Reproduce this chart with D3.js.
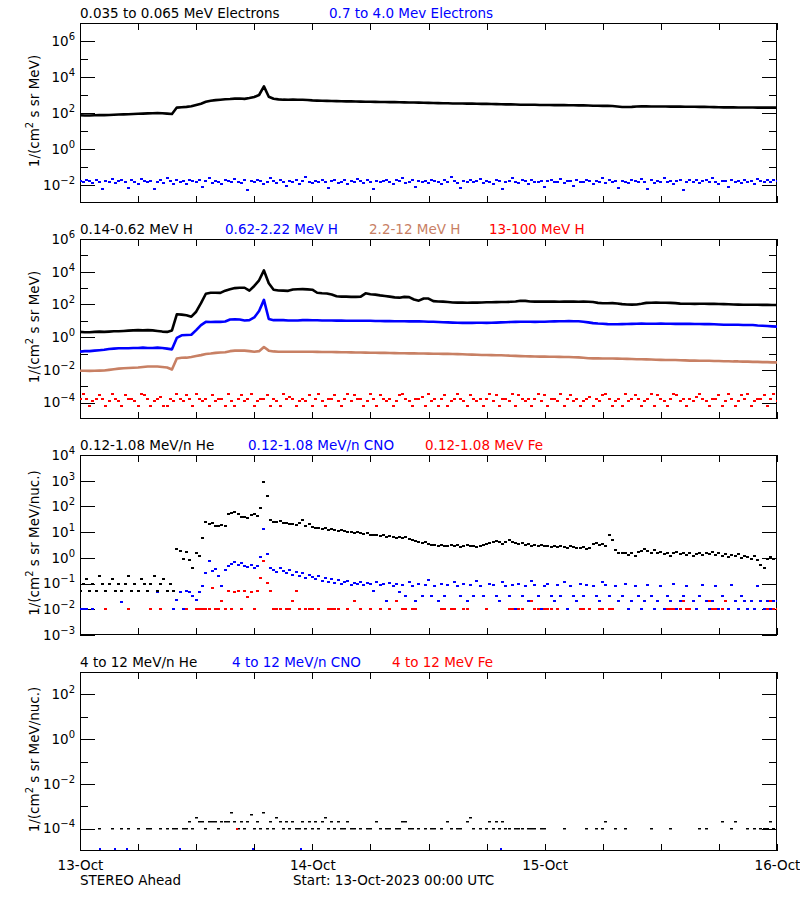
<!DOCTYPE html>
<html><head><meta charset="utf-8">
<script src="https://cdn.jsdelivr.net/npm/d3@7"></script>
<style>
body{margin:0;background:#fff}
svg{display:block}
text{font-family:"DejaVu Sans",sans-serif}
</style>
</head><body>
<svg id="chart" width="800" height="900"></svg>
<script>
// ---------------- DATA ----------------
// time axis: hours since 13-Oct-2023 00:00 UTC
const tickHours = [0,6,12,18,24,30,36,42,48,54,60,66,72];
const dayLabels = {0:"13-Oct",24:"14-Oct",48:"15-Oct",72:"16-Oct"};

// series on a 30-min grid (145 values, 0..72 h)
const eLow = [ // 0.035-0.065 MeV electrons
 75,72,73,75,77,76,78,80,82,84,
 86,88,90,92,95,97,98,96,92,88,
 200,210,220,235,280,330,420,480,520,550,
 580,600,630,640,610,680,780,1000,3000,800,
 620,570,550,545,550,540,540,530,500,490,
 480,470,460,455,450,445,440,435,430,425,
 420,415,410,405,400,400,395,390,385,380,
 375,370,365,360,355,350,345,340,340,335,
 330,330,325,320,320,315,310,305,300,300,
 295,290,290,285,285,280,280,280,275,275,
 275,270,270,265,265,260,255,255,250,250,
 245,230,215,215,220,230,235,232,230,230,
 228,228,226,225,225,224,222,222,220,218,
 215,212,208,206,205,205,204,203,202,202,
 200,200,198,198,200];
const hLow = [ // 0.14-0.62 MeV H
 2.1,2.0,2.0,2.1,2.2,2.1,2.2,2.3,2.3,2.4,
 2.5,2.6,2.7,2.6,2.7,2.6,2.4,2.2,2.1,2.6,
 25,24,22,18,36,120,450,520,520,510,
 700,850,1000,1050,1050,700,1350,3000,12000,2000,
 800,720,700,680,820,850,860,840,800,520,
 480,470,400,320,300,300,290,290,300,480,
 420,400,360,330,300,270,260,290,280,200,
 170,230,230,160,150,148,140,132,130,130,
 128,130,130,132,135,135,138,140,140,145,
 150,170,165,150,148,148,150,148,148,145,
 148,150,148,145,148,145,140,125,118,118,
 120,115,105,100,98,100,110,125,128,130,
 128,128,125,120,112,110,110,108,110,110,
 108,108,106,105,104,100,98,96,95,96,
 95,94,94,93,92];
const hMid = [ // 0.62-2.22 MeV H
 0.13,0.14,0.14,0.15,0.16,0.17,0.19,0.2,0.21,0.21,
 0.21,0.22,0.22,0.23,0.22,0.22,0.23,0.22,0.2,0.18,
 0.9,1.3,1.35,1.4,2.7,5.5,8.7,8.5,8.7,8.6,
 9.0,12,12.5,12,10.5,11,16,40,190,13,
 11,11,11,10.5,10.5,10.5,11,11,10.8,10.8,
 10.5,10.5,10.5,10.3,10.3,10.2,10,10,10,10,
 10,9.8,9.8,9.6,9.6,9.5,9.5,9.4,9.3,9.2,
 9.2,9.0,8.8,8.7,8.5,8.2,8.0,7.8,7.6,7.5,
 7.6,7.5,7.6,7.6,7.5,7.6,7.8,8.0,8.2,8.5,
 8.6,8.7,8.7,8.7,8.6,8.7,8.8,9.0,9.2,9.4,
 9.5,9.6,9.5,9.4,8.8,8.0,7.2,6.8,6.6,6.3,
 6.2,6.2,6.3,6.4,6.5,6.6,6.7,6.6,6.6,6.6,
 6.7,6.6,6.6,6.5,6.6,6.5,6.5,6.4,6.4,6.3,
 6.3,6.2,6.0,5.8,5.8,5.8,5.7,5.6,5.6,5.5,
 5.2,5.0,4.8,4.6,4.4];
const hHigh = [ // 2.2-12 MeV H
 0.0088,0.0088,0.0087,0.0089,0.009,0.0092,0.01,0.011,0.012,0.0125,
 0.013,0.0135,0.014,0.015,0.016,0.016,0.016,0.015,0.014,0.0105,
 0.05,0.055,0.056,0.062,0.07,0.08,0.093,0.1,0.11,0.117,
 0.12,0.14,0.15,0.15,0.15,0.14,0.13,0.14,0.25,0.15,
 0.135,0.13,0.13,0.13,0.13,0.13,0.13,0.128,0.128,0.126,
 0.125,0.125,0.124,0.122,0.12,0.12,0.118,0.116,0.115,0.114,
 0.113,0.112,0.11,0.11,0.108,0.106,0.105,0.104,0.103,0.102,
 0.1,0.1,0.099,0.098,0.097,0.096,0.095,0.094,0.092,0.09,
 0.088,0.086,0.084,0.082,0.081,0.08,0.079,0.078,0.076,0.074,
 0.072,0.07,0.068,0.067,0.066,0.065,0.065,0.064,0.064,0.063,
 0.062,0.061,0.06,0.058,0.055,0.052,0.051,0.051,0.05,0.05,
 0.05,0.049,0.048,0.047,0.046,0.045,0.045,0.044,0.043,0.042,
 0.041,0.04,0.04,0.04,0.039,0.038,0.037,0.037,0.036,0.036,
 0.036,0.035,0.035,0.034,0.034,0.033,0.033,0.032,0.032,0.031,
 0.031,0.03,0.03,0.029,0.029];

// series on a 20-min grid (217 values, 0..72 h); 0 = no point
const eHighUnit = 1e-2;
const eHigh = [ // 0.7-4.0 MeV electrons, in units of 1e-2
 1.7,1.5,2.0,1.6,1.3,1.8,1.4,0.6,1.7,1.5,2.2,1.3,
 1.6,1.9,1.4,0.7,1.8,1.5,1.2,2.1,1.6,1.4,1.7,0.6,
 1.5,1.8,1.3,2.4,1.6,1.2,1.9,1.5,1.7,1.1,2.0,1.6,
 1.4,1.8,0.8,1.6,2.6,1.3,1.7,1.5,1.2,1.9,1.6,1.4,
 2.1,1.5,1.3,1.8,0.5,1.6,1.4,2.0,1.7,1.2,1.5,2.3,
 1.6,1.3,1.8,1.5,0.9,1.7,1.4,1.9,1.2,1.6,2.7,1.5,
 1.3,1.7,1.5,2.0,1.4,0.7,1.6,1.8,1.3,1.5,1.9,1.2,
 1.7,1.4,2.2,1.6,1.3,1.8,1.5,0.6,1.7,1.4,1.6,2.0,
 1.5,1.2,1.8,1.6,2.4,1.3,1.5,1.9,0.8,1.6,1.4,1.7,
 1.3,2.0,1.6,1.5,1.2,1.8,1.4,2.8,1.6,1.3,0.7,1.7,
 1.5,1.8,1.4,1.6,2.1,1.3,1.7,1.5,1.2,1.9,1.6,0.6,
 1.4,1.7,2.3,1.5,1.3,1.8,1.6,1.2,2.0,1.5,1.4,1.7,
 0.8,1.6,1.9,1.4,1.5,2.2,1.3,1.7,1.6,0.9,1.8,1.5,
 1.4,2.0,1.6,1.2,1.7,1.5,2.6,1.3,1.8,1.4,1.6,0.7,
 1.7,1.5,1.3,1.9,1.6,1.4,2.1,1.5,0.6,1.8,1.3,1.6,
 1.5,2.3,1.4,1.7,1.2,1.6,1.9,0.5,1.5,1.8,1.4,2.0,
 1.3,1.6,1.8,1.4,2.5,1.5,1.2,1.7,1.6,0.8,1.9,1.4,
 1.6,1.3,2.0,1.5,1.7,1.2,2.2,1.6,1.4,1.8,1.5,1.9,
 1.6];
const hTopUnit = 1e-4;
const hTop = [ // 13-100 MeV H, in units of 1e-4
 1.7,3.4,1.7,0.65,1.3,1.7,2.8,1.7,0.65,1.3,3.4,1.7,
 1.3,0.65,2.8,1.7,1.7,1.3,0.65,3.4,2.8,1.7,0.65,1.3,
 1.7,2.2,0.65,0.65,1.7,1.3,3.4,1.7,1.3,2.8,1.7,0.65,
 3.4,1.7,1.3,1.7,0.65,2.8,1.3,1.7,1.7,0.65,3.4,1.3,
 0.65,1.7,2.8,1.3,1.7,3.4,0.65,1.3,1.7,1.7,2.8,0.65,
 1.7,1.3,0.65,3.4,1.7,2.2,1.7,0.65,1.3,1.7,1.3,2.8,
 0.65,1.7,3.4,1.3,0.65,1.7,1.7,2.8,1.3,0.65,1.7,3.4,
 1.3,2.8,1.7,1.7,0.65,1.3,3.4,1.7,0.65,2.8,1.7,1.3,
 1.7,0.65,1.3,2.8,3.4,1.7,1.3,0.65,1.7,1.7,2.2,0.65,
 3.4,1.3,1.7,0.65,1.7,2.8,0.65,1.3,1.7,3.4,1.7,1.3,
 0.65,2.8,1.7,1.3,1.7,0.65,1.7,3.4,1.3,2.8,0.65,1.7,
 1.7,1.3,3.4,0.65,2.8,1.7,1.3,1.7,0.65,1.7,3.4,1.3,
 2.8,0.65,1.7,1.7,1.3,3.4,0.65,1.7,2.8,1.3,1.7,0.65,
 1.3,1.7,2.2,0.65,1.7,1.3,2.8,3.4,1.7,0.65,1.3,1.7,
 0.65,3.4,1.3,1.7,2.8,1.7,0.65,1.3,1.7,3.4,0.65,2.8,
 1.7,1.3,0.65,1.7,3.4,2.8,1.3,1.7,0.65,1.7,1.3,2.2,
 3.4,1.7,1.3,0.65,1.7,1.7,2.8,0.65,1.3,3.4,1.7,0.65,
 1.3,2.8,1.7,3.4,0.65,1.3,1.7,1.7,2.8,0.65,1.7,3.4,
 1.3];
const heLow = [ // 0.12-1.08 MeV/n He
 0.05,0.1,0.15,0.05,0.1,0.05,0.2,0.1,0.05,0.1,0.15,0.05,
 0.1,0.05,0.1,0.2,0.05,0.1,0.05,0.15,0.1,0.05,0.1,0.2,
 0.05,0.1,0.15,0.05,0.1,0.05,2.2,1.9,0.9,1.7,0.8,0.4,
 1.6,1.2,6,24,20,22,18,17,19,18,50,55,
 60,52,40,38,35,45,50,42,90,900,250,30,
 25,24,26,22,23,20,21,19,22,30,18,20,
 16,15,14,13,14,12,13,12,11,12,11,10,
 10,9,10,9,8.5,9,8,7.5,8,7,7.5,6.5,
 7,6.5,6,6.5,6,6.3,5.5,5,4.5,4.2,3.8,4,
 3.5,3.2,3.3,3,3.2,2.8,3,3.3,2.9,3.1,2.7,3,
 3.2,2.8,3,2.6,2.9,3.1,3.4,3.8,4.2,4.5,4,3.6,
 4.3,4.8,4.2,3.8,3.5,3.7,3.3,3.5,3,3.2,2.9,3.1,
 2.8,2.9,2.7,2.8,2.6,2.9,2.7,2.5,2.8,2.6,2.4,2.5,
 2.7,2.3,2.5,3.5,3.8,3.2,3.5,3,8,5,2,1.6,
 1.5,1.6,1.3,1.5,1.2,1.7,1.9,2.2,1.8,1.6,2,1.5,
 1.7,1.4,1.6,1.2,1.5,1.7,1.4,1.6,1.3,1.5,1.2,1.4,
 1.6,1.3,1.5,1.4,1.7,1.3,1.5,1.2,1.4,1.1,1.3,1.2,
 1.4,1,1.2,1.1,0.9,1.2,0.8,0.55,0.4,0.9,1.1,0.9,
 1];
const cnoLow = [ // 0.12-1.08 MeV/n CNO
 0.01,0.01,0.01,0,0.01,0,0,0,0,0,0,0,
 0,0.02,0,0,0,0,0,0,0,0,0,0,
 0.045,0.01,0,0,0,0.01,0.023,0.047,0.01,0.053,0.047,0.034,
 0.023,0.045,0.08,0.25,0.78,0.3,0.37,0.2,0.083,0.35,0.5,0.6,
 0.7,0.55,0.65,0.5,0.45,0.55,0.4,0.5,1.1,13,1.45,0.4,
 0.35,0.28,0.4,0.3,0.25,0.33,0.22,0.28,0.2,0.25,0.17,0.22,
 0.18,0.15,0.2,0.13,0.17,0.12,0.15,0.11,0.14,0.1,0.12,0.13,
 0.09,0.11,0.1,0.12,0.09,0.11,0.1,0.05,0.12,0.09,0.1,0.021,
 0.11,0.08,0.1,0.045,0.09,0.034,0.12,0.08,0.021,0.1,0.034,0.09,
 0.14,0.034,0.08,0.021,0.1,0.034,0.09,0.01,0.12,0.08,0.034,0.1,
 0.021,0.09,0.034,0.13,0.08,0.034,0.01,0.1,0.09,0.034,0.021,0.12,
 0.08,0.034,0.09,0.01,0.1,0.034,0.08,0.021,0.13,0.09,0.034,0.01,
 0.08,0.1,0.034,0.021,0.09,0.034,0.12,0.01,0.08,0.034,0.021,0.1,
 0.034,0.09,0.01,0.08,0.034,0.021,0.12,0.09,0.034,0.01,0.08,0.021,
 0.034,0.1,0.01,0.021,0.08,0.034,0.01,0.021,0.09,0.034,0.01,0.021,
 0.08,0.01,0.034,0.021,0.1,0.01,0.021,0.034,0.08,0.01,0.021,0.01,
 0.034,0.09,0.021,0.01,0.021,0.08,0.01,0.034,0.021,0.01,0.09,0.021,
 0.01,0.034,0.021,0.01,0.021,0.01,0.08,0.021,0.01,0.021,0.01,0.021,
 0.021];
const feLow = [ // 0.12-1.08 MeV Fe
 0,0,0,0,0,0,0,0,0.01,0,0,0,
 0,0,0,0.01,0,0,0,0,0,0,0.01,0,
 0,0.01,0,0,0,0,0,0,0,0.01,0,0,
 0.01,0.01,0.01,0.01,0.01,0.066,0.01,0.01,0.021,0.01,0.05,0.01,
 0.045,0.05,0.01,0.05,0.03,0.045,0.01,0.05,0.17,0.78,0.11,0.05,
 0.01,0.01,0.01,0,0.01,0.01,0.021,0.05,0.01,0,0.01,0.01,
 0.01,0,0.01,0,0,0.01,0.01,0.01,0.01,0,0,0.01,
 0,0.021,0,0.01,0,0,0.01,0,0,0.01,0,0,
 0.01,0,0.021,0,0.01,0.01,0,0.01,0.01,0,0,0,
 0,0,0,0,0.01,0.01,0,0.01,0.01,0,0,0.01,
 0.01,0,0,0,0,0,0.01,0,0,0,0,0,
 0,0.01,0.01,0,0.01,0.01,0,0,0.021,0.01,0.01,0,
 0.01,0.01,0.01,0,0.01,0,0,0,0,0,0,0.01,
 0.01,0,0.01,0,0,0.01,0.01,0,0.01,0.01,0,0,
 0,0,0,0,0,0,0,0,0,0,0,0,
 0,0,0.01,0.01,0.01,0,0.01,0.021,0.01,0.01,0,0,
 0,0,0,0.021,0.01,0.01,0,0.01,0.021,0,0,0,
 0,0,0,0,0,0,0,0,0,0.01,0.021,0.01,
 0.01];
const heHigh = [ // 4-12 MeV/n He
 0,0,0,0,0,0,1e-4,0,0,0,1e-4,0,
 0,1e-4,0,1e-4,0,0,1e-4,0,0,1e-4,1e-4,0,
 0,1e-4,0,1e-4,0,1e-4,1e-4,0,1e-4,1e-4,2e-4,1e-4,
 3e-4,2e-4,2e-4,1e-4,2e-4,2e-4,2e-4,1e-4,2e-4,2e-4,2e-4,5e-4,
 2e-4,1e-4,2e-4,1e-4,2e-4,4e-4,1e-4,2e-4,1e-4,5e-4,1e-4,2e-4,
 1e-4,3e-4,2e-4,1e-4,2e-4,1e-4,2e-4,1e-4,1e-4,2e-4,1e-4,2e-4,
 1e-4,2e-4,1e-4,2e-4,3e-4,1e-4,2e-4,1e-4,2e-4,1e-4,1e-4,2e-4,
 1e-4,1e-4,0,1e-4,0,1e-4,1e-4,0,2e-4,1e-4,0,1e-4,
 1e-4,0,1e-4,1e-4,2e-4,2e-4,1e-4,1e-4,0,1e-4,0,1e-4,
 0,1e-4,1e-4,0,1e-4,0,2e-4,1e-4,0,1e-4,1e-4,0,
 2e-4,3e-4,1e-4,0,1e-4,0,1e-4,2e-4,1e-4,2e-4,1e-4,2e-4,
 1e-4,1e-4,0,1e-4,1e-4,1e-4,0,1e-4,1e-4,1e-4,0,1e-4,
 1e-4,0,0,0,0,0,1e-4,0,0,0,0,0,
 0,1e-4,0,0,1e-4,0,1e-4,2e-4,0,0,1e-4,0,
 0,1e-4,0,0,0,0,0,0,0,1e-4,0,0,
 0,0,0,1e-4,0,0,0,0,0,0,0,0,
 1e-4,0,1e-4,0,0,0,0,2e-4,0,0,1e-4,2e-4,
 0,0,0,1e-4,0,1e-4,0,1e-4,1e-4,1e-4,2e-4,1e-4,
 1e-4];
const cnoHighTimes = [2.1,3.6,4.9,10.3,17.9,22.8,43.5];
const cnoHighValues = [1.2e-5,1.2e-5,1.2e-5,1.2e-5,1.2e-5,1.2e-5,1.2e-5];
const feHighTimes = [16.2];
const feHighValues = [1e-4];

const panelTitles = [
  [["0.035 to 0.065 MeV Electrons","#000000"],["0.7 to 4.0 Mev Electrons","#0000ff"]],
  [["0.14-0.62 MeV H","#000000"],["0.62-2.22 MeV H","#0000ff"],["2.2-12 MeV H","#c88064"],["13-100 MeV H","#ff0000"]],
  [["0.12-1.08 MeV/n He","#000000"],["0.12-1.08 MeV/n CNO","#0000ff"],["0.12-1.08 MeV Fe","#ff0000"]],
  [["4 to 12 MeV/n He","#000000"],["4 to 12 MeV/n CNO","#0000ff"],["4 to 12 MeV Fe","#ff0000"]]
];
const yUnits = ["MeV","MeV","MeV/nuc.","MeV/nuc."];
const footLeft = "STEREO Ahead";
const footMid = "Start: 13-Oct-2023 00:00 UTC";

// ---------------- LAYOUT ----------------
const svg = d3.select("#chart");
svg.append("rect").attr("width",800).attr("height",900).attr("fill","#fff");
const xL = 80, xR = 777;
const x = d3.scaleLinear().domain([0,72]).range([xL,xR]);

const layout = [
  {top:23,  bottom:203, dom:[1e-3,1e7], majors:[1e-2,1,1e2,1e4,1e6], minors:[1e-1,1e1,1e3,1e5], titleX:[80,329]},
  {top:239, bottom:419, dom:[1e-5,1e6], majors:[1e-4,1e-2,1,1e2,1e4,1e6], minors:[1e-3,1e-1,1e1,1e3,1e5], titleX:[80,225,369,489]},
  {top:455, bottom:635, dom:[1e-3,1e4], majors:[1e-3,1e-2,1e-1,1,1e1,1e2,1e3,1e4], minors:[], titleX:[80,248,425]},
  {top:672, bottom:851, dom:[1e-5,1e3], majors:[1e-4,1e-2,1,1e2], minors:[1e-3,1e-1,1e1], titleX:[80,232,392]}
];

function styleAxis(g){
  g.attr("font-family",'"DejaVu Sans", sans-serif').attr("font-size",13.5);
  g.select(".domain").remove();
  g.selectAll(".tick line").attr("stroke","#000").attr("shape-rendering","crispEdges");
  g.selectAll(".tick text").attr("fill","#000");
}

layout.forEach((p,pi)=>{
  p.y = d3.scaleLog().domain(p.dom).range([p.bottom,p.top]);
  const g = svg.append("g");
  const cid = "clip"+pi;
  svg.append("clipPath").attr("id",cid).append("rect")
    .attr("x",xL).attr("y",p.top).attr("width",xR-xL).attr("height",p.bottom-p.top);
  p.plot = svg.append("g").attr("clip-path",`url(#${cid})`);

  // frame
  g.append("rect").attr("x",xL+0.5).attr("y",p.top+0.5).attr("width",xR-xL-1).attr("height",p.bottom-p.top-1)
    .attr("fill","none").attr("stroke","#000").attr("stroke-width",1);

  // left major ticks with labels
  const la = g.append("g").attr("transform",`translate(${xL},0)`)
    .call(d3.axisLeft(p.y).tickValues(p.majors).tickSize(-15).tickSizeOuter(0).tickPadding(5).tickFormat(d=>d));
  styleAxis(la);
  la.selectAll(".tick text").each(function(d){
    const e = Math.round(Math.log10(d));
    const t = d3.select(this); t.text(null);
    t.append("tspan").text("10");
    t.append("tspan").attr("font-size",10).attr("dy",-6).text(e<0 ? "\u2212"+(-e) : String(e));
  });
  if(p.minors.length){
    const lm = g.append("g").attr("transform",`translate(${xL},0)`)
      .call(d3.axisLeft(p.y).tickValues(p.minors).tickSize(-8).tickSizeOuter(0).tickFormat(()=>""));
    styleAxis(lm);
    const rm = g.append("g").attr("transform",`translate(${xR},0)`)
      .call(d3.axisRight(p.y).tickValues(p.minors).tickSize(-8).tickSizeOuter(0).tickFormat(()=>""));
    styleAxis(rm);
  }
  const ra = g.append("g").attr("transform",`translate(${xR},0)`)
    .call(d3.axisRight(p.y).tickValues(p.majors).tickSize(-15).tickSizeOuter(0).tickFormat(()=>""));
  styleAxis(ra);

  // x ticks top and bottom
  const ta = g.append("g").attr("transform",`translate(0,${p.top})`)
    .call(d3.axisTop(x).tickValues(tickHours).tickSize(-7).tickSizeOuter(0).tickFormat(()=>""));
  styleAxis(ta);
  const ba = g.append("g").attr("transform",`translate(0,${p.bottom})`)
    .call(d3.axisBottom(x).tickValues(tickHours).tickSize(-7).tickSizeOuter(0).tickPadding(9.5)
      .tickFormat(d => pi===3 && dayLabels[d] ? dayLabels[d] : ""));
  styleAxis(ba);

  // titles
  panelTitles[pi].forEach((tt,k)=>{
    svg.append("text").attr("x",p.titleX[k]).attr("y",p.top-5).attr("font-size",13.5)
      .attr("fill",tt[1]).text(tt[0]);
  });

  // y axis title
  const cy = (p.top+p.bottom)/2 - 2;
  const yt = svg.append("text").attr("transform",`translate(39,${cy}) rotate(-90)`)
    .attr("text-anchor","middle").attr("font-size",13.5).attr("fill","#000");
  yt.append("tspan").text("1/(cm");
  yt.append("tspan").attr("font-size",10).attr("dy",-6).text("2");
  yt.append("tspan").attr("dy",6).text(" s sr "+yUnits[pi]+")");
});

// ---------------- MARKS ----------------
function grid(vals, unit=1){
  const n = vals.length;
  return vals.map((v,i)=>({t:i*72/(n-1), v:v*unit})).filter(d=>d.v>0);
}
function lineSeries(pi, vals, color, w=2.6){
  const p = layout[pi];
  p.plot.append("path").datum(grid(vals))
    .attr("d", d3.line().x(d=>x(d.t)).y(d=>p.y(d.v)))
    .attr("fill","none").attr("stroke",color).attr("stroke-width",w)
    .attr("stroke-linejoin","round");
}
function dotSeries(pi, data, color, w, h){
  const p = layout[pi];
  p.plot.append("g").selectAll("rect").data(data).join("rect")
    .attr("x",d=>Math.round(x(d.t)-w/2)).attr("y",d=>Math.round(p.y(d.v)-h/2))
    .attr("width",w).attr("height",h).attr("fill",color);
}

// panel 1
lineSeries(0, eLow, "#000");
dotSeries(0, grid(eHigh, eHighUnit), "#0000ff", 3, 2);
// panel 2
dotSeries(1, grid(hTop, hTopUnit), "#ff0000", 3, 2);
lineSeries(1, hHigh, "#c88064");
lineSeries(1, hMid, "#0000ff");
lineSeries(1, hLow, "#000");
// panel 3
dotSeries(2, grid(cnoLow), "#0000ff", 3, 2);
dotSeries(2, grid(feLow), "#ff0000", 3, 2);
dotSeries(2, grid(heLow), "#000", 3, 2);
// panel 4
dotSeries(3, grid(heHigh), "#000", 3, 1.5);
dotSeries(3, cnoHighTimes.map((t,i)=>({t, v:cnoHighValues[i]})), "#0000ff", 2, 2);
dotSeries(3, feHighTimes.map((t,i)=>({t, v:feHighValues[i]})), "#ff0000", 2, 2);

// footer
svg.append("text").attr("x",80).attr("y",885).attr("font-size",13.5).attr("fill","#000").text(footLeft);
svg.append("text").attr("x",293).attr("y",885).attr("font-size",13.5).attr("fill","#000").text(footMid);
</script>
</body></html>
